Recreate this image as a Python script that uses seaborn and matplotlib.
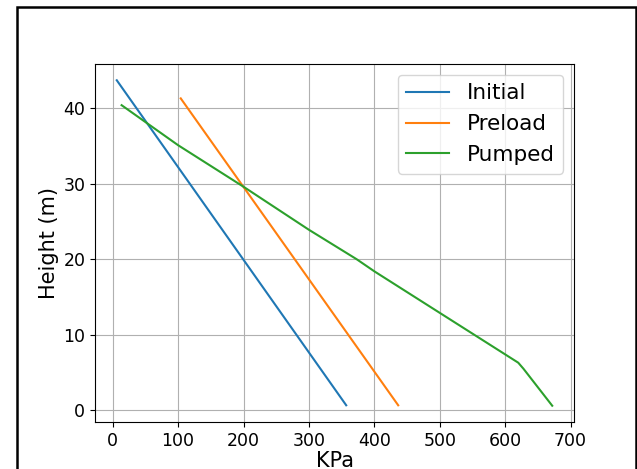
import matplotlib
matplotlib.use("Agg")
import matplotlib.pyplot as plt
from matplotlib.patches import Rectangle
import seaborn as sns
import pandas as pd

# pressure (KPa) vs height (m)
initial_kpa = [6.2, 357.0]
initial_h = [43.7, 0.66]

preload_kpa = [104.0, 436.5]
preload_h = [41.3, 0.66]

pumped_kpa = [13.6, 100, 200, 300, 373, 400, 500, 600, 620, 628, 672]
pumped_h = [40.4, 35.1, 29.6, 23.9, 20.0, 18.4, 12.9, 7.4, 6.3, 5.5, 0.6]

series = [
    ("Initial", initial_kpa, initial_h),
    ("Preload", preload_kpa, preload_h),
    ("Pumped", pumped_kpa, pumped_h),
]
colors = sns.color_palette("tab10", 3)

fig = plt.figure(figsize=(6.37, 4.69), dpi=100)
ax = fig.add_axes([95 / 637, 1 - 422 / 469, 479 / 637, 358 / 469])

for (name, xs, ys), c in zip(series, colors):
    df = pd.DataFrame({"KPa": xs, "Height": ys})
    sns.lineplot(data=df, x="KPa", y="Height", sort=False, estimator=None,
                 color=c, linewidth=1.5, label=name, ax=ax)

ax.set_xticks(range(0, 701, 100))
ax.set_xlabel("KPa", fontsize=15, labelpad=1)
ax.set_ylabel("Height (m)", fontsize=15, labelpad=3)
ax.tick_params(labelsize=12.5)
ax.grid(True)
ax.legend(loc="upper right", fontsize=15.5)

# frame around the whole figure
fig.add_artist(Rectangle((16.5 / 637, -0.2), 619.5 / 637, 1.2 - 7.5 / 469,
                         transform=fig.transFigure, fill=False,
                         edgecolor="black", linewidth=1.8))

fig.savefig("out.png", dpi=100)
